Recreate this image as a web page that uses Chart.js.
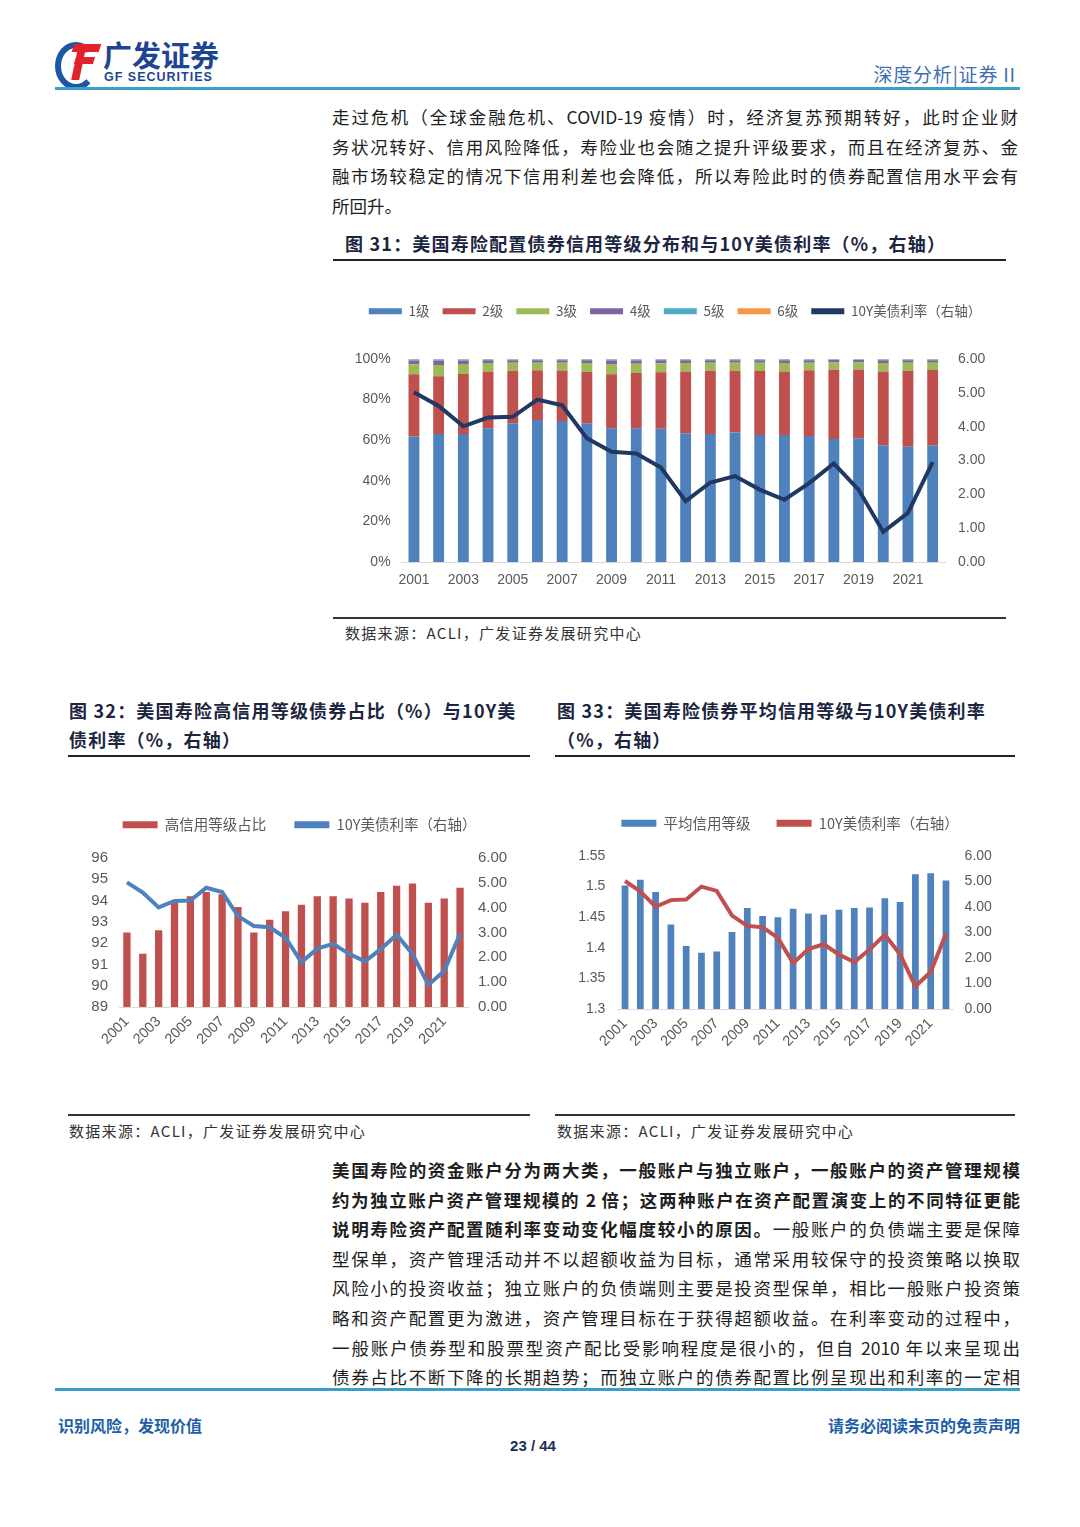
<!DOCTYPE html>
<html lang="zh-CN">
<head>
<meta charset="utf-8">
<title>美国寿险债券信用等级与10Y美债利率</title>
<script src="https://cdn.jsdelivr.net/npm/chart.js@4.4.1/dist/chart.umd.min.js"></script>
<style>
  html, body { margin: 0; padding: 0; background: #fff; }
  #page { position: relative; width: 1080px; height: 1527px; overflow: hidden; font-family: "Noto Sans CJK SC", sans-serif; color: #222; }
  .abs { position: absolute; }
  .rule-blue { position: absolute; left: 55px; width: 965px; height: 3px; background: #3a9fc9; }
  .rule { position: absolute; height: 2px; background: #222; }
  .rule-thin { position: absolute; height: 1.5px; background: #333; }
  .para { position: absolute; font-size: 17.5px; line-height: 29.6px; color: #1e1e1e; }
  .para .j { text-align: justify; text-align-last: justify; }
  .title { position: absolute; font-size: 18px; font-weight: bold; letter-spacing: 1.2px; line-height: 29px; color: #1c2640; }
  .src { position: absolute; font-size: 15px; letter-spacing: 1.3px; color: #333; }
  .box { position: absolute; }
  .box canvas { display: block; }
</style>
</head>
<body>
<div id="page">
  <!-- header -->
  <div class="abs" style="left:55px;top:42px;width:30px;height:36px;border:6px solid #1b57a6;border-right-color:transparent;border-radius:50%;"></div>
  <div class="abs" style="left:73px;top:44px;width:27px;height:8px;background:#e3232c;transform:skewX(-18deg);"></div>
  <div class="abs" style="left:75px;top:57px;width:19px;height:7px;background:#e3232c;transform:skewX(-18deg);"></div>
  <div class="abs" style="left:75px;top:44px;width:8px;height:36px;background:#e3232c;transform:skewX(-12deg);"></div>
  <div class="abs" style="left:103px;top:36px;font-size:29px;font-weight:bold;color:#1d4592;line-height:36px;">广发证券</div>
  <div class="abs" style="left:104px;top:70px;font-family:'Liberation Sans',Arial,sans-serif;font-size:12.5px;font-weight:bold;letter-spacing:1px;color:#1d4592;">GF SECURITIES</div>
  <div class="abs" style="right:64px;top:60px;font-size:19px;color:#3c6fb0;letter-spacing:0.8px;">深度分析|证券 II</div>
  <div class="rule-blue" style="top:87px;"></div>

  <!-- paragraph 1 -->
  <div class="para" style="left:332px;top:102px;width:686px;">
    <div class="j">走过危机（全球金融危机、COVID-19 疫情）时，经济复苏预期转好，此时企业财</div>
    <div class="j">务状况转好、信用风险降低，寿险业也会随之提升评级要求，而且在经济复苏、金</div>
    <div class="j">融市场较稳定的情况下信用利差也会降低，所以寿险此时的债券配置信用水平会有</div>
    <div>所回升。</div>
  </div>

  <!-- figure 31 -->
  <div class="title" style="left:345px;top:229px;">图 31：美国寿险配置债券信用等级分布和与10Y美债利率（%，右轴）</div>
  <div class="rule" style="left:333px;top:259px;width:673px;"></div>
  <div class="box" style="left:340px;top:290px;width:670px;height:302px;"><canvas id="c31"></canvas></div>
  <div class="rule-thin" style="left:333px;top:617px;width:673px;"></div>
  <div class="src" style="left:345px;top:622px;">数据来源：ACLI，广发证券发展研究中心</div>

  <!-- figure 32 / 33 titles -->
  <div class="title" style="left:69px;top:696px;">图 32：美国寿险高信用等级债券占比（%）与10Y美<br>债利率（%，右轴）</div>
  <div class="rule" style="left:68px;top:755px;width:462px;"></div>
  <div class="title" style="left:557px;top:696px;">图 33：美国寿险债券平均信用等级与10Y美债利率<br>（%，右轴）</div>
  <div class="rule" style="left:555px;top:755px;width:460px;"></div>

  <div class="box" style="left:60px;top:790px;width:465px;height:267px;"><canvas id="c32"></canvas></div>
  <div class="box" style="left:548px;top:790px;width:467px;height:269px;"><canvas id="c33"></canvas></div>

  <div class="rule-thin" style="left:68px;top:1114px;width:462px;"></div>
  <div class="rule-thin" style="left:555px;top:1114px;width:460px;"></div>
  <div class="src" style="left:69px;top:1120px;">数据来源：ACLI，广发证券发展研究中心</div>
  <div class="src" style="left:557px;top:1120px;">数据来源：ACLI，广发证券发展研究中心</div>

  <!-- paragraph 2 -->
  <div class="para" style="left:332px;top:1155px;width:688px;">
    <div class="j"><b>美国寿险的资金账户分为两大类，一般账户与独立账户，一般账户的资产管理规模</b></div>
    <div class="j"><b>约为独立账户资产管理规模的 2 倍；这两种账户在资产配置演变上的不同特征更能</b></div>
    <div class="j"><b>说明寿险资产配置随利率变动变化幅度较小的原因。</b>一般账户的负债端主要是保障</div>
    <div class="j">型保单，资产管理活动并不以超额收益为目标，通常采用较保守的投资策略以换取</div>
    <div class="j">风险小的投资收益；独立账户的负债端则主要是投资型保单，相比一般账户投资策</div>
    <div class="j">略和资产配置更为激进，资产管理目标在于获得超额收益。在利率变动的过程中，</div>
    <div class="j">一般账户债券型和股票型资产配比受影响程度是很小的，但自 2010 年以来呈现出</div>
    <div class="j">债券占比不断下降的长期趋势；而独立账户的债券配置比例呈现出和利率的一定相</div>
  </div>

  <!-- footer -->
  <div class="rule-blue" style="top:1388px;"></div>
  <div class="abs" style="left:58px;top:1413px;font-size:16px;font-weight:bold;color:#1f5fa8;">识别风险，发现价值</div>
  <div class="abs" style="right:60px;top:1413px;font-size:16px;font-weight:bold;color:#1f5fa8;">请务必阅读末页的免责声明</div>
  <div class="abs" style="left:0;width:1066px;text-align:center;top:1437px;font-family:'Liberation Sans',Arial,sans-serif;font-size:15px;font-weight:bold;color:#1c2f5a;">23 / 44</div>
</div>

<script>
// years on the x axis
const years = ["2001", "2002", "2003", "2004", "2005", "2006", "2007", "2008", "2009", "2010", "2011",
    "2012", "2013", "2014", "2015", "2016", "2017", "2018", "2019", "2020", "2021", "2022"];

// credit grade distribution (% of bonds)
const grade1 = [61.8, 63.1, 63.1, 65.9, 68.4, 69.9, 69.5, 68.4, 65.9, 65.9, 65.6, 63.4, 63.1, 63.8, 62.6, 62.6, 62.1, 60.6, 61.0, 57.5, 56.8, 57.5];
const grade2 = [30.7, 28.4, 29.5, 28.0, 25.8, 24.5, 24.8, 25.3, 26.6, 27.2, 27.9, 30.4, 31.1, 30.4, 31.5, 31.3, 32.3, 34.1, 33.8, 36.4, 37.3, 37.1];
const grade3 = [4.9, 5.6, 4.9, 4.1, 3.9, 3.8, 3.9, 4.3, 5.0, 4.6, 4.4, 4.2, 3.9, 3.9, 4.0, 4.1, 3.8, 3.6, 3.5, 4.1, 4.0, 3.6];
const grade4 = [1.8, 2.0, 1.7, 1.4, 1.3, 1.2, 1.2, 1.4, 1.7, 1.6, 1.5, 1.4, 1.3, 1.3, 1.3, 1.4, 1.2, 1.2, 1.2, 1.4, 1.3, 1.2];
const grade5 = [0.5, 0.6, 0.5, 0.4, 0.4, 0.4, 0.4, 0.4, 0.5, 0.5, 0.4, 0.4, 0.4, 0.4, 0.4, 0.4, 0.4, 0.3, 0.3, 0.4, 0.4, 0.4];
const grade6 = [0.3, 0.3, 0.3, 0.2, 0.2, 0.2, 0.2, 0.2, 0.3, 0.2, 0.2, 0.2, 0.2, 0.2, 0.2, 0.2, 0.2, 0.2, 0.2, 0.2, 0.2, 0.2];

// share of high credit grade bonds (%)
const highGrade = [92.5, 91.5, 92.6, 93.9, 94.2, 94.4, 94.3, 93.7, 92.5, 93.1, 93.5, 93.8, 94.2, 94.2, 94.1, 93.9, 94.4, 94.7, 94.8, 93.9, 94.1, 94.6];

// average credit grade
const avgGrade = [1.502, 1.511, 1.491, 1.438, 1.403, 1.392, 1.394, 1.426, 1.465, 1.452, 1.450, 1.464, 1.456, 1.454, 1.462, 1.465, 1.466, 1.481, 1.475, 1.520, 1.522, 1.510];

// 10Y US treasury yield (%, right axis)
const ust10y = [5.02, 4.61, 4.01, 4.27, 4.29, 4.80, 4.63, 3.66, 3.26, 3.21, 2.79, 1.80, 2.35, 2.54, 2.14, 1.84, 2.33, 2.91, 2.14, 0.89, 1.45, 2.95];

const tickColor = "#595959";
const latinFont = "'Liberation Sans', Arial, sans-serif";
const cjkFont = "'Noto Sans CJK SC', sans-serif";

/**
 * Forces the legend box to a given height, so the plot area lands where it should.
 */
function fixedLegend(h) {
    return {
        id: "fixedLegend",
        beforeInit(chart) {
            const fit = chart.legend.fit;
            chart.legend.fit = function () {
                fit.call(this);
                this.height = h;
            };
        }
    };
}

// legend items without outlines, in dataset order
function legendLabels(chart) {
    const items = Chart.defaults.plugins.legend.labels.generateLabels(chart);
    items.forEach(function (item) {
        item.lineWidth = 0;
    });
    return items;
}

function byIndex(a, b) {
    return a.datasetIndex - b.datasetIndex;
}

function everyOther(value, index) {
    return index % 2 === 0 ? years[index] : "";
}

Chart.defaults.animation = false;

// Figure 31
new Chart(document.getElementById("c31"), {
    type: "bar",
    data: {
        labels: years,
        datasets: [
            { label: "1级", data: grade1, backgroundColor: "#4f81bd", order: 1 },
            { label: "2级", data: grade2, backgroundColor: "#c0504d", order: 1 },
            { label: "3级", data: grade3, backgroundColor: "#9bbb59", order: 1 },
            { label: "4级", data: grade4, backgroundColor: "#8064a2", order: 1 },
            { label: "5级", data: grade5, backgroundColor: "#4bacc6", order: 1 },
            { label: "6级", data: grade6, backgroundColor: "#f79646", order: 1 },
            {
                type: "line", label: "10Y美债利率（右轴）", data: ust10y, yAxisID: "y1", order: 0,
                borderColor: "#1f3864", backgroundColor: "#1f3864", borderWidth: 4, pointRadius: 0, tension: 0
            }
        ].map(function (d) {
            if (!d.type) {
                d.barPercentage = 0.44;
                d.categoryPercentage = 1;
            }
            return d;
        })
    },
    options: {
        responsive: true,
        maintainAspectRatio: false,
        layout: { padding: { top: 1.5, left: 0, right: 0, bottom: 0 } },
        plugins: {
            tooltip: { enabled: false },
            legend: {
                labels: {
                    boxWidth: 33, boxHeight: 6, padding: 13,
                    color: tickColor, font: { family: cjkFont, size: 13.5 },
                    generateLabels: legendLabels,
                    sort: byIndex
                }
            }
        },
        scales: {
            x: {
                stacked: true,
                grid: { display: false, drawTicks: false },
                border: { display: true, color: "#d9d9d9" },
                ticks: { color: tickColor, font: { family: latinFont, size: 14 }, padding: 10, autoSkip: false, maxRotation: 0, callback: everyOther },
                afterFit: function (s) { s.height = 30; }
            },
            y: {
                stacked: true, min: 0, max: 100,
                grid: { display: false, drawTicks: false },
                border: { display: false },
                ticks: { stepSize: 20, color: tickColor, font: { family: latinFont, size: 14 }, padding: 11, callback: function (v) { return v + "%"; } },
                afterFit: function (s) { s.width = 61.6; }
            },
            y1: {
                position: "right", min: 0, max: 6,
                grid: { display: false, drawTicks: false },
                border: { display: false },
                ticks: { stepSize: 1, color: tickColor, font: { family: latinFont, size: 14 }, padding: 13, callback: function (v) { return v.toFixed(2); } },
                afterFit: function (s) { s.width = 65; }
            }
        }
    },
    plugins: [fixedLegend(67.5)]
});

// Figure 32
new Chart(document.getElementById("c32"), {
    type: "bar",
    data: {
        labels: years,
        datasets: [
            { label: "高信用等级占比", data: highGrade, backgroundColor: "#c0504d", barPercentage: 0.46, categoryPercentage: 1, order: 1 },
            {
                type: "line", label: "10Y美债利率（右轴）", data: ust10y, yAxisID: "y1", order: 0,
                borderColor: "#4f81bd", backgroundColor: "#4f81bd", borderWidth: 4, pointRadius: 0, tension: 0
            }
        ]
    },
    options: {
        responsive: true,
        maintainAspectRatio: false,
        layout: { padding: { top: -0.5, left: 14 } },
        plugins: {
            tooltip: { enabled: false },
            legend: {
                labels: {
                    boxWidth: 35, boxHeight: 7, padding: 28,
                    color: tickColor, font: { family: cjkFont, size: 14.5 },
                    generateLabels: legendLabels,
                    sort: byIndex
                }
            }
        },
        scales: {
            x: {
                grid: { display: false, drawTicks: false },
                border: { display: true, color: "#d9d9d9" },
                ticks: { color: tickColor, font: { family: latinFont, size: 14.5 }, padding: 6, autoSkip: false, minRotation: 45, maxRotation: 45, callback: everyOther },
                afterFit: function (s) { s.height = 50; }
            },
            y: {
                min: 89, max: 96,
                grid: { display: false, drawTicks: false },
                border: { display: false },
                ticks: { stepSize: 1, color: tickColor, font: { family: latinFont, size: 15 }, padding: 11 },
                afterFit: function (s) { s.width = 45; }
            },
            y1: {
                position: "right", min: 0, max: 6,
                grid: { display: false, drawTicks: false },
                border: { display: false },
                ticks: { stepSize: 1, color: tickColor, font: { family: latinFont, size: 15 }, padding: 10, callback: function (v) { return v.toFixed(2); } },
                afterFit: function (s) { s.width = 57; }
            }
        }
    },
    plugins: [fixedLegend(68.5)]
});

// Figure 33
new Chart(document.getElementById("c33"), {
    type: "bar",
    data: {
        labels: years,
        datasets: [
            { label: "平均信用等级", data: avgGrade, backgroundColor: "#4f81bd", barPercentage: 0.44, categoryPercentage: 1, order: 1 },
            {
                type: "line", label: "10Y美债利率（右轴）", data: ust10y, yAxisID: "y1", order: 0,
                borderColor: "#c0504d", backgroundColor: "#c0504d", borderWidth: 4, pointRadius: 0, tension: 0
            }
        ]
    },
    options: {
        responsive: true,
        maintainAspectRatio: false,
        layout: { padding: { top: 0, left: 17 } },
        plugins: {
            tooltip: { enabled: false },
            legend: {
                labels: {
                    boxWidth: 35, boxHeight: 7, padding: 26,
                    color: tickColor, font: { family: cjkFont, size: 14.5 },
                    generateLabels: legendLabels,
                    sort: byIndex
                }
            }
        },
        scales: {
            x: {
                grid: { display: false, drawTicks: false },
                border: { display: true, color: "#d9d9d9" },
                ticks: { color: tickColor, font: { family: latinFont, size: 14.5 }, padding: 6, autoSkip: false, minRotation: 45, maxRotation: 45, callback: everyOther },
                afterFit: function (s) { s.height = 50; }
            },
            y: {
                min: 1.3, max: 1.55,
                grid: { display: false, drawTicks: false },
                border: { display: false },
                ticks: { stepSize: 0.05, color: tickColor, font: { family: latinFont, size: 14 }, padding: 12, callback: function (v) { return String(+v.toFixed(2)); } },
                afterFit: function (s) { s.width = 52.4; }
            },
            y1: {
                position: "right", min: 0, max: 6,
                grid: { display: false, drawTicks: false },
                border: { display: false },
                ticks: { stepSize: 1, color: tickColor, font: { family: latinFont, size: 14 }, padding: 11, callback: function (v) { return v.toFixed(2); } },
                afterFit: function (s) { s.width = 61.4; }
            }
        }
    },
    plugins: [fixedLegend(66)]
});
</script>
</body>
</html>
